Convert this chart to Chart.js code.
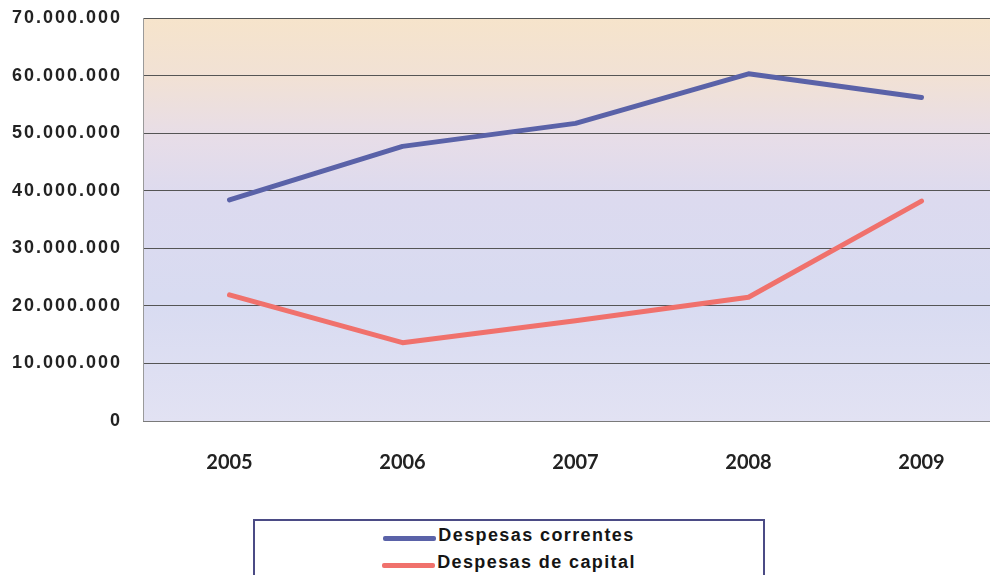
<!DOCTYPE html>
<html>
<head>
<meta charset="utf-8">
<script src="https://cdn.jsdelivr.net/npm/chart.js@4/dist/chart.umd.min.js"></script>
<style>
  html, body { margin: 0; padding: 0; background: #fff; overflow: hidden; }
  #wrap { position: relative; width: 990px; height: 575px; overflow: hidden; }
  #chart { position: absolute; left: 0; top: 0; }
  #legend {
    position: absolute; left: 253px; top: 519px; width: 508px; height: 80px;
    border: 2px solid #4b4b85; background: #fff;
    padding-top: 1px; box-sizing: content-box;
    font-family: "Liberation Sans", Arial, sans-serif; font-weight: bold;
    font-size: 18px; letter-spacing: 1.4px; color: #151515;
  }
  #legend .row { display: flex; justify-content: center; align-items: center; height: 27px; }
  #legend .swatch { width: 53px; height: 5px; margin-right: 2px; position: relative; top: 3px; border-radius: 2px; }
</style>
</head>
<body>
<div id="wrap">
  <canvas id="chart" width="1010" height="480"></canvas>
  <div id="legend"></div>
</div>
<script>
const years = ['2005', '2006', '2007', '2008', '2009'];
const correntes = [38400000, 47700000, 51700000, 60300000, 56200000];
const capital = [21900000, 13600000, 17400000, 21500000, 38200000];
const yTickValues = [0, 10000000, 20000000, 30000000, 40000000, 50000000, 60000000, 70000000];
const yTickLabels = ['0', '10.000.000', '20.000.000', '30.000.000', '40.000.000', '50.000.000', '60.000.000', '70.000.000'];
const seriesNames = ['Despesas correntes', 'Despesas de capital'];
const seriesColors = ['#5a62a8', '#f0716c'];

// gradient background of the plot area + letter spacing for the y labels only
const plotBackground = {
    id: 'plotBackground',
    beforeDraw(chart) {
        const { ctx, chartArea: a } = chart;
        const g = ctx.createLinearGradient(0, a.top, 0, a.bottom);
        g.addColorStop(0, '#f6e4cb');
        g.addColorStop(0.15, '#f1e1d5');
        g.addColorStop(0.3, '#e7dde8');
        g.addColorStop(0.45, '#dcdaef');
        g.addColorStop(0.7, '#d8dbf1');
        g.addColorStop(1, '#e2e2f3');
        ctx.save();
        ctx.fillStyle = g;
        ctx.fillRect(a.left, a.top, a.right - a.left, a.bottom - a.top);
        ctx.restore();
        ctx.letterSpacing = '2px';
    },
    afterDatasetsDraw(chart) {
        chart.ctx.letterSpacing = '0px';
    }
};

const chart = new Chart(document.getElementById('chart'), {
    type: 'line',
    data: {
        labels: years,
        datasets: [
            { label: seriesNames[0], data: correntes, borderColor: seriesColors[0], backgroundColor: seriesColors[0] },
            { label: seriesNames[1], data: capital, borderColor: seriesColors[1], backgroundColor: seriesColors[1] }
        ]
    },
    options: {
        responsive: false,
        animation: false,
        devicePixelRatio: 1,
        layout: { padding: { top: 18, right: 2, left: 0, bottom: 0 } },
        elements: {
            line: { borderWidth: 5, tension: 0, borderCapStyle: 'round', borderJoinStyle: 'round' },
            point: { radius: 0, hoverRadius: 0 }
        },
        plugins: {
            legend: { display: false },
            tooltip: { enabled: false }
        },
        scales: {
            x: {
                offset: true,
                grid: { display: false, drawTicks: false },
                border: { display: true, color: '#7a7a7a', width: 1, z: 1 },
                ticks: {
                    z: 1,
                    padding: 30,
                    color: '#222',
                    font: { family: 'Lato', weight: 'bold', size: 20 }
                },
                afterFit(scale) { scale.height = 59; }
            },
            y: {
                min: 0,
                max: 70000000,
                afterBuildTicks(scale) { scale.ticks = yTickValues.map(v => ({ value: v })); },
                grid: { color: '#555555', lineWidth: 1, drawTicks: false },
                border: { display: true, color: '#9a9a9a', width: 1 },
                ticks: {
                    padding: 21,
                    color: '#222',
                    font: { family: 'Liberation Sans', weight: 'bold', size: 18 },
                    callback: (v, i) => yTickLabels[i]
                },
                afterFit(scale) {
                    scale.width = 143;
                    scale.paddingTop = 0;
                    scale.paddingBottom = 0;
                }
            }
        }
    },
    plugins: [plotBackground]
});

// legend built from the chart's datasets
const legend = document.getElementById('legend');
chart.data.datasets.forEach(ds => {
    const row = document.createElement('div');
    row.className = 'row';
    const sw = document.createElement('span');
    sw.className = 'swatch';
    sw.style.background = ds.borderColor;
    const txt = document.createElement('span');
    txt.textContent = ds.label;
    row.appendChild(sw);
    row.appendChild(txt);
    legend.appendChild(row);
});
</script>
</body>
</html>
